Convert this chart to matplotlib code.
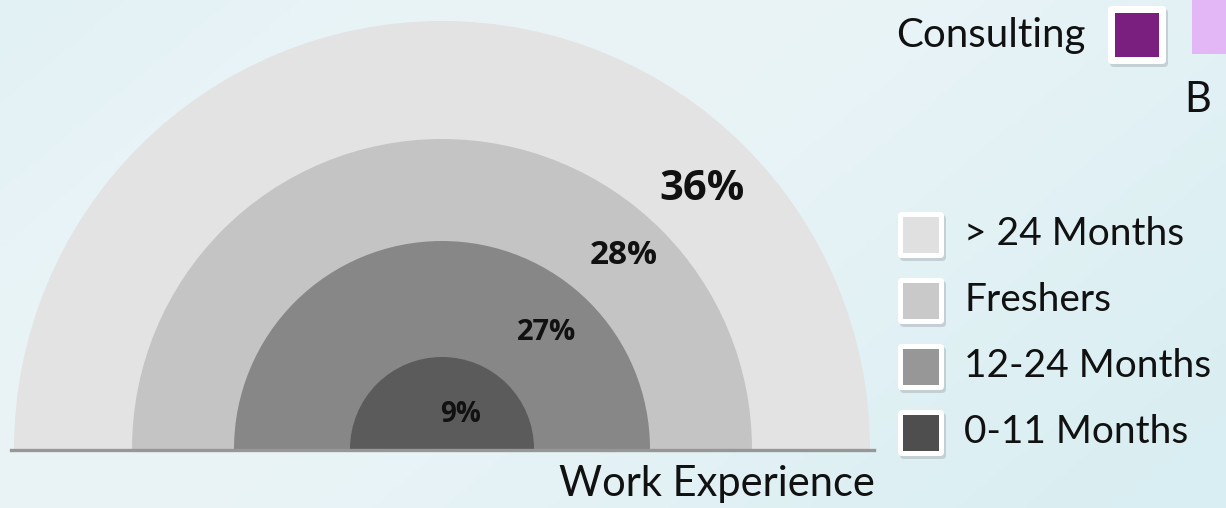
import numpy as np
import matplotlib
matplotlib.use('Agg')
import matplotlib.pyplot as plt
from matplotlib.patches import Wedge, FancyBboxPatch, Rectangle

# data (outer ring first)
categories = ['> 24 Months', 'Freshers', '12-24 Months', '0-11 Months']
percents = [36, 28, 27, 9]
ring_colors = ['#e3e3e3', '#c4c4c4', '#878787', '#5b5b5b']
legend_colors = ['#e0e0e0', '#c9c9c9', '#979797', '#4e4e4e']
title = 'Work Experience'

# layout in pixel coords
W, H = 1226, 508
cx, cy = 442, 448
radii = [428, 310, 208, 92]
label_pos = [(702, 190), (624, 256), (547, 333), (461, 414)]
label_sizes = [30, 24, 21, 20]

fig = plt.figure(figsize=(W / 100, H / 100), dpi=100)
ax = fig.add_axes([0, 0, 1, 1])
ax.set_xlim(0, W)
ax.set_ylim(H, 0)
ax.axis('off')

# background gradient
gx = np.linspace(0, 1, 300)
gy = np.linspace(0, 1, 120)
X, Y = np.meshgrid(gx, gy)
base = np.array([0xd9, 0xee, 0xf2]) / 255
light = np.array([0xea, 0xf4, 0xf7]) / 255
t = 0.5 + 0.5 * np.sin(X * 3.0 + Y * 1.5)
img = base[None, None, :] * (1 - t[..., None]) + light[None, None, :] * t[..., None]
ax.imshow(img, extent=[0, W, H, 0], aspect='auto', zorder=0)

# nested half rings
for r, c in zip(radii, ring_colors):
    ax.add_patch(Wedge((cx, cy + 1), r, 180, 360, facecolor=c, edgecolor='none', zorder=2))
ax.plot([cx - radii[0] - 3, cx + radii[0] + 4], [cy + 1.5, cy + 1.5], color='#979797', lw=2.4, zorder=3)

for (x, y), p, s in zip(label_pos, percents, label_sizes):
    ax.text(x, y, f'{p}%', fontsize=s, fontweight='bold', family='Open Sans',
            ha='center', va='center', color='#111111', zorder=4)

ax.text(717, 484, title, fontsize=30, family='Lato', ha='center', va='center', color='#111111', zorder=4)

# legend
def swatch(x, y, size, color, border=5):
    ax.add_patch(FancyBboxPatch((x + 2, y + 3), size, size, boxstyle='round,pad=0,rounding_size=4',
                                facecolor='#b0babf', edgecolor='none', alpha=0.6, zorder=4))
    ax.add_patch(FancyBboxPatch((x, y), size, size, boxstyle='round,pad=0,rounding_size=4',
                                facecolor='white', edgecolor='none', zorder=5))
    ax.add_patch(Rectangle((x + border, y + border), size - 2 * border, size - 2 * border,
                           facecolor=color, edgecolor='none', zorder=6))

leg_y = [212, 278, 344, 410]
for name, c, y in zip(categories, legend_colors, leg_y):
    swatch(898, y, 46, c)
    ax.text(964, y + 22, name, fontsize=28, family='Lato', ha='left', va='center', color='#111111', zorder=6)

# partial top legend
ax.text(896, 35, 'Consulting', fontsize=29, family='Lato', ha='left', va='center', color='#111111', zorder=6)
swatch(1108, 6, 58, '#7a1f7f', border=7)
ax.add_patch(Rectangle((1192, -5), 40, 59, facecolor='#e3b6f6', edgecolor='none', zorder=6))
ax.text(1184, 100, 'B', fontsize=30, family='Lato', ha='left', va='center', color='#111111', zorder=6)

fig.savefig('out.png', dpi=100)
